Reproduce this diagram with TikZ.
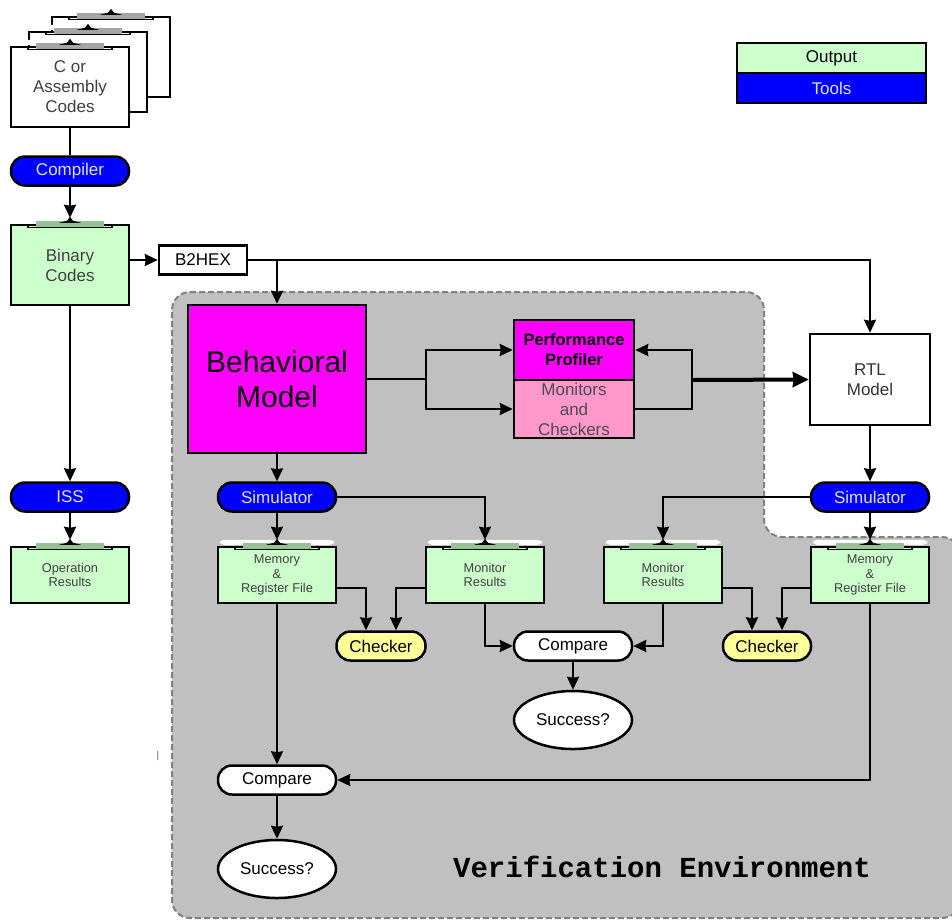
\documentclass[tikz,border=0pt]{standalone}
\usepackage{fontspec}
\setmainfont{Liberation Sans}
\setmonofont{Liberation Mono}
\usetikzlibrary{arrows.meta, calc, shapes.geometric}

\definecolor{toolblue}{RGB}{0,0,255}
\definecolor{tooltext}{RGB}{225,225,255}
\definecolor{outgreen}{RGB}{204,255,204}
\definecolor{behmag}{RGB}{255,0,255}
\definecolor{monpink}{RGB}{255,153,204}
\definecolor{chkyellow}{RGB}{255,255,153}
\definecolor{envgray}{RGB}{192,192,192}
\definecolor{clipgreen}{RGB}{150,195,150}
\definecolor{clipgray}{RGB}{165,165,165}

\tikzset{
  every node/.style={align=center, inner sep=0pt},
  mainfont/.style={font=\fontsize{17}{20}\selectfont},
  smallfont/.style={font=\fontsize{12.8}{14.5}\selectfont},
  tool/.style={mainfont, draw, line width=2.5pt, rounded corners=14pt, fill=toolblue,
    text=tooltext, minimum width=118pt, minimum height=29pt},
  output/.style={smallfont, draw, line width=2.5pt, fill=outgreen, text=black!75,
    minimum width=118pt, minimum height=56pt},
  pill/.style={mainfont, draw, line width=2.5pt, rounded corners=14pt, fill=white,
    minimum width=118pt, minimum height=29pt},
  page/.style={mainfont, draw, line width=2.5pt, fill=white, text=black!75,
    minimum width=118pt, minimum height=80pt},
  goal/.style={mainfont, draw, line width=2.5pt, ellipse, fill=white,
    minimum width=118pt, minimum height=58pt},
  arr/.style={-{Stealth[length=13pt, width=12pt, inset=1pt]}, line width=2.2pt},
  line/.style={line width=2.2pt}
}

% clip on top of a document box: #1 node, #2 bar colour
\newcommand\docclip[2]{%
  \fill[white, rounded corners=4pt] ($(#1.north west)+(3,-1)$) rectangle ($(#1.north east)+(-3,-6)$);
  \fill[#2] ($(#1.north)+(-34,-3)$) rectangle ($(#1.north)+(34,3)$);
  \draw[line width=1.3pt] ($(#1.north)+(-42,0)$) -- ($(#1.north)+(-42,4)$)
    -- ($(#1.north)+(42,4)$) -- ($(#1.north)+(42,0)$);
  \fill ($(#1.north)+(-11,-1)$) -- ($(#1.north)+(-3,-3)$) -- ($(#1.north)+(0,-7)$)
    -- ($(#1.north)+(3,-3)$) -- ($(#1.north)+(11,-1)$) -- cycle;
}

\begin{document}
\begin{tikzpicture}[x=1pt, y=-1pt]
  \useasboundingbox (0,0) rectangle (952,922);
  % verification environment
  \path[fill=envgray, draw=black!50, line width=2pt, dash pattern=on 6pt off 3pt, rounded corners=18pt]
    (172,292) -- (764,292) -- (764,537) -- (960,537) -- (960,918) -- (172,918) -- cycle;
  \node[font=\ttfamily\bfseries\fontsize{29}{32}\selectfont] (envlabel) at (662,867) {Verification Environment};
  \node[font=\fontsize{10}{10}\selectfont, text=black!60] (tick) at (158,756) {|};

  % source pages
  \node[page] (codesC) at (111,57) {};
  \docclip{codesC}{clipgray}
  \node[page] (codesB) at (88,72) {};
  \docclip{codesB}{clipgray}
  \node[page] (codes) at (70,87) {C or\\Assembly\\Codes};
  \docclip{codes}{clipgray}

  % legend
  \node[mainfont, draw, line width=2.5pt, fill=outgreen, minimum width=189pt, minimum height=30pt] (legout) at (831.5,58) {Output};
  \node[tool, rounded corners=0pt, minimum width=189pt, minimum height=30pt] (legtool) at (831.5,88) {Tools};

  % left column
  \node[tool] (compiler) at (70,171) {Compiler};
  \node[page, fill=outgreen] (binary) at (70,265) {Binary\\Codes};
  \docclip{binary}{clipgreen}
  \node[mainfont, draw, line width=2.5pt, fill=white, minimum width=88pt, minimum height=29pt] (b2hex) at (203,260) {B2HEX};
  \node[tool] (iss) at (70,497) {ISS};
  \node[output] (opres) at (70,575) {Operation\\Results};
  \docclip{opres}{clipgreen}

  % models
  \node[draw, line width=2.5pt, fill=behmag, minimum width=178pt, minimum height=148pt,
    font=\fontsize{30}{35}\selectfont] (beh) at (277,379) {Behavioral\\Model};
  \node[draw, line width=2.5pt, fill=behmag, minimum width=120pt, minimum height=60pt,
    font=\bfseries\fontsize{16.5}{20}\selectfont] (prof) at (574,350) {Performance\\Profiler};
  \node[mainfont, draw, line width=2.5pt, fill=monpink, text=black!70, minimum width=120pt,
    minimum height=58pt] (mon) at (574,409) {Monitors\\and\\Checkers};
  \node[mainfont, draw, line width=2.5pt, fill=white, text=black!80, minimum width=120pt,
    minimum height=91pt] (rtl) at (870,379.5) {RTL\\Model};

  % simulators and results
  \node[tool] (simL) at (277,497) {Simulator};
  \node[tool] (simR) at (870,497) {Simulator};
  \node[output] (memL) at (277,575) {Memory\\\&\\Register File};
  \node[output] (monL) at (485,575) {Monitor\\Results};
  \node[output] (monR) at (663,575) {Monitor\\Results};
  \node[output] (memR) at (870,575) {Memory\\\&\\Register File};
  \foreach \n in {memL, monL, monR, memR} {\docclip{\n}{clipgreen}}

  \node[pill, fill=chkyellow, minimum width=89pt] (chkL) at (381,646) {Checker};
  \node[pill] (cmpM) at (573,646) {Compare};
  \node[pill, fill=chkyellow, minimum width=88pt] (chkR) at (767,646) {Checker};
  \node[goal] (sucM) at (573,720) {Success?};
  \node[pill] (cmpB) at (277,780) {Compare};
  \node[goal] (sucB) at (277,869) {Success?};

  \coordinate (splitA) at (426,379);
  \coordinate (splitB) at (692,380);

  % connectors
  \draw[line] (codes.south) -- (compiler.north);
  \draw[arr] (compiler.south) -- ([yshift=6pt]binary.north);
  \draw[arr] (b2hex.west -| binary.east) -- (b2hex.west);
  \draw[arr] (b2hex.east) -| (beh.north);
  \draw[arr] (b2hex.east) -| (rtl.north);
  \draw[arr] (binary.south) -- (iss.north);
  \draw[arr] (iss.south) -- ([yshift=6pt]opres.north);
  \draw[line] (beh.east) -- (splitA);
  \draw[arr] (splitA) |- (prof.west);
  \draw[arr] (splitA) |- (mon.west);
  \draw[arr] (mon.east) -| (splitB) |- (prof.east);
  \draw[-{Stealth[length=16pt, width=15pt, inset=1pt]}, line width=4pt] (splitB) -- (rtl.west);
  \draw[arr] (beh.south) -- (simL.north);
  \draw[arr] (rtl.south) -- (simR.north);
  \draw[arr] (simL.south) -- ([yshift=6pt]memL.north);
  \draw[arr] (simL.east) -| ([yshift=6pt]monL.north);
  \draw[arr] (simR.south) -- ([yshift=6pt]memR.north);
  \draw[arr] (simR.west) -| ([yshift=6pt]monR.north);
  \draw[arr] ([yshift=-13pt]memL.east) -| ([xshift=-15pt]chkL.north);
  \draw[arr] ([yshift=-13pt]monL.west) -| ([xshift=15pt]chkL.north);
  \draw[arr] (monL.south) |- (cmpM.west);
  \draw[arr] (monR.south) |- (cmpM.east);
  \draw[arr] ([yshift=-13pt]monR.east) -| ([xshift=-15pt]chkR.north);
  \draw[arr] ([yshift=-13pt]memR.west) -| ([xshift=15pt]chkR.north);
  \draw[arr] (cmpM.south) -- (sucM.north);
  \draw[arr] (memL.south) -- (cmpB.north);
  \draw[arr] (memR.south) |- (cmpB.east);
  \draw[arr] (cmpB.south) -- (sucB.north);
\end{tikzpicture}
\end{document}
